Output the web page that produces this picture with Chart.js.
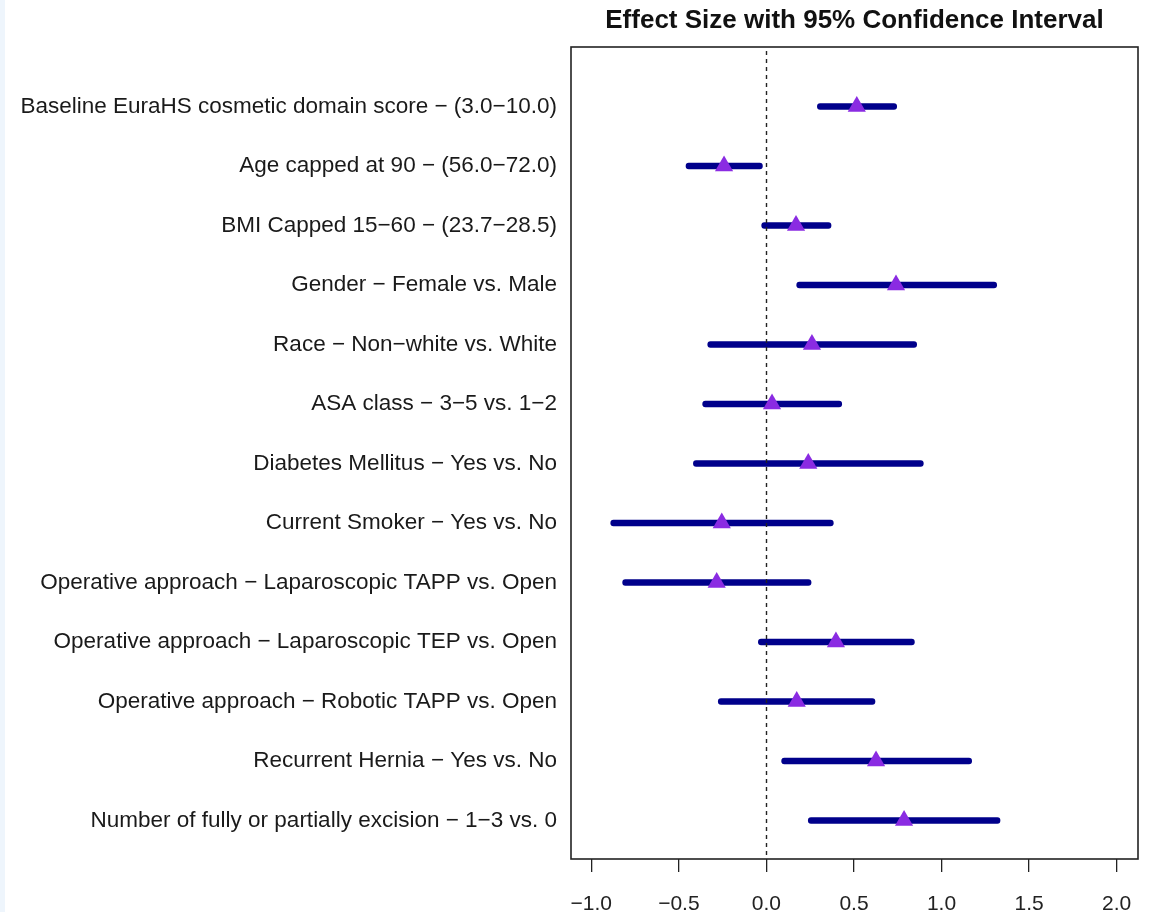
<!DOCTYPE html>
<html>
<head>
<meta charset="utf-8">
<title>Effect Size with 95% Confidence Interval</title>
<script src="https://cdn.jsdelivr.net/npm/chart.js@4/dist/chart.umd.min.js"></script>
<style>
  html, body { margin: 0; padding: 0; }
  body {
    width: 1152px; height: 912px; overflow: hidden;
    background: linear-gradient(to right, #eef5fc 0, #eef5fc 5px, #ffffff 5px);
  }
  #wrap { position: relative; width: 1152px; height: 912px; }
</style>
</head>
<body>
<div id="wrap"><canvas id="forest" width="1152" height="912"></canvas></div>
<script>
// Predictors, top to bottom
const predictors = [
  "Baseline EuraHS cosmetic domain score \u2212 (3.0\u221210.0)",
  "Age capped at 90 \u2212 (56.0\u221272.0)",
  "BMI Capped 15\u221260 \u2212 (23.7\u221228.5)",
  "Gender \u2212 Female vs. Male",
  "Race \u2212 Non\u2212white vs. White",
  "ASA class \u2212 3\u22125 vs. 1\u22122",
  "Diabetes Mellitus \u2212 Yes vs. No",
  "Current Smoker \u2212 Yes vs. No",
  "Operative approach \u2212 Laparoscopic TAPP vs. Open",
  "Operative approach \u2212 Laparoscopic TEP vs. Open",
  "Operative approach \u2212 Robotic TAPP vs. Open",
  "Recurrent Hernia \u2212 Yes vs. No",
  "Number of fully or partially excision \u2212 1\u22123 vs. 0"
];

// Point estimates and 95% CI bounds
const effect  = [0.516, -0.242, 0.169, 0.740, 0.260, 0.032, 0.239, -0.255, -0.284, 0.397, 0.173, 0.626, 0.786];
const ciLower = [0.291, -0.459, -0.027, 0.173, -0.335, -0.364, -0.417, -0.889, -0.821, -0.046, -0.275, 0.087, 0.239];
const ciUpper = [0.744, -0.023, 0.369, 1.315, 0.858, 0.430, 0.896, 0.382, 0.255, 0.845, 0.620, 1.172, 1.334];

// X axis ticks
const xTickValues = [-1.0, -0.5, 0.0, 0.5, 1.0, 1.5, 2.0];
const xTickLabels = ["\u22121.0", "\u22120.5", "0.0", "0.5", "1.0", "1.5", "2.0"];

const rowIndex = predictors.map((_, i) => i + 1);
const FONT = "'Liberation Sans', Arial, Helvetica, sans-serif";

// Frame around the plotting region, dashed null line and heading
const framePlugin = {
  id: 'frame',
  afterDatasetDraw(chart, args) {
    if (chart.getDatasetMeta(args.index).type !== 'bar') return;
    const { ctx, chartArea: a, scales } = chart;
    const x0 = scales.x.getPixelForValue(0);
    ctx.save();
    ctx.strokeStyle = '#222';
    ctx.lineWidth = 1.4;
    ctx.setLineDash([4, 4]);
    ctx.beginPath();
    ctx.moveTo(Math.round(x0) + 0.5, a.top + 4);
    ctx.lineTo(Math.round(x0) + 0.5, a.bottom);
    ctx.stroke();
    ctx.restore();
  },
  afterDraw(chart) {
    const { ctx, chartArea: a } = chart;
    ctx.save();
    ctx.strokeStyle = '#222';
    ctx.lineWidth = 1.6;
    ctx.strokeRect(a.left, a.top, a.right - a.left, a.bottom - a.top);
    ctx.fillStyle = '#111';
    ctx.font = "bold 26px " + FONT;
    ctx.textAlign = 'center';
    ctx.textBaseline = 'middle';
    ctx.fillText('Effect Size with 95% Confidence Interval', (a.left + a.right) / 2, 21);
    ctx.restore();
  }
};

new Chart(document.getElementById('forest'), {
  type: 'bar',
  data: {
    datasets: [
      {
        type: 'scatter',
        label: 'Effect size',
        data: rowIndex.map((r, i) => ({ x: effect[i], y: r })),
        pointStyle: 'triangle',
        pointRadius: 10.5,
        pointHoverRadius: 10.5,
        pointBackgroundColor: '#8a2be2',
        pointBorderColor: '#8a2be2',
        pointBorderWidth: 0,
        order: 0
      },
      {
        type: 'bar',
        label: '95% CI',
        indexAxis: 'y',
        data: rowIndex.map((r, i) => ({ x: [ciLower[i], ciUpper[i]], y: r })),
        backgroundColor: '#00008b',
        borderWidth: 0,
        borderSkipped: false,
        borderRadius: 3,
        barThickness: 6,
        order: 1
      }
    ]
  },
  options: {
    responsive: false,
    animation: false,
    indexAxis: 'y',
    layout: { padding: { left: 0, right: 14, top: 47, bottom: 0 } },
    plugins: {
      legend: { display: false },
      tooltip: { enabled: false },
      title: { display: false }
    },
    scales: {
      x: {
        type: 'linear',
        position: 'bottom',
        min: -1.116,
        max: 2.122,
        offset: false,
        border: { display: false },
        grid: {
          display: true,
          offset: false,
          drawOnChartArea: false,
          drawTicks: true,
          tickLength: 13,
          color: '#222',
          lineWidth: 1.3
        },
        afterBuildTicks(scale) {
          scale.ticks = xTickValues.map(v => ({ value: v }));
        },
        ticks: {
          autoSkip: false,
          maxRotation: 0,
          padding: 20,
          color: '#222',
          font: { family: FONT, size: 21 },
          callback: (v) => {
            const k = xTickValues.findIndex(t => Math.abs(t - v) < 1e-9);
            return k >= 0 ? xTickLabels[k] : '';
          }
        },
        afterFit(scale) { scale.height = 53; }
      },
      y: {
        type: 'linear',
        position: 'left',
        reverse: true,
        min: 0,
        max: 13.647,
        offset: false,
        border: { display: false },
        grid: { display: false, drawTicks: false, offset: false },
        afterBuildTicks(scale) {
          scale.ticks = rowIndex.map(v => ({ value: v }));
        },
        ticks: {
          autoSkip: false,
          padding: 14,
          color: '#1a1a1a',
          font: { family: FONT, size: 22.5 },
          callback: (v) => predictors[Math.round(v) - 1] || ''
        },
        afterFit(scale) { scale.width = 571; }
      }
    }
  },
  plugins: [framePlugin]
});
</script>
</body>
</html>
